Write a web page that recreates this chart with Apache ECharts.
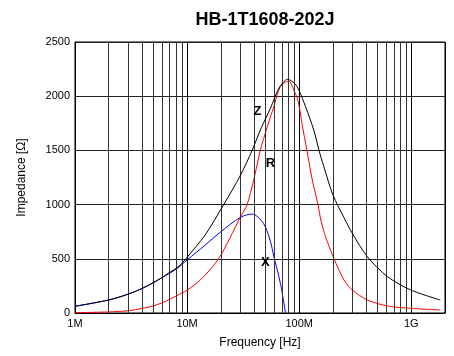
<!DOCTYPE html>
<html><head><meta charset="utf-8">
<script src="https://cdn.jsdelivr.net/npm/echarts@6/dist/echarts.min.js"></script>
<style>html,body{margin:0;padding:0;background:#fff}#c{width:454px;height:356px}</style>
</head><body><div id="c"></div>
<script>
// Frequencies in Hz, impedance in ohms
var zFreq = [1e6, 2e6, 3e6, 4e6, 5e6, 6e6, 7e6, 8e6, 9e6, 10e6, 14.5e6, 21.2e6, 30e6, 38e6, 46e6, 55.5e6, 66e6, 79e6, 92e6, 100e6, 114e6, 135e6, 150e6, 166e6, 200e6, 251e6, 298e6, 406e6, 614e6, 992e6, 1815e6];
var zVal  = [62, 120, 175, 228, 280, 329, 375, 412, 458, 514, 720, 1000, 1273, 1500, 1710, 1890, 2073, 2156, 2113, 2050, 1903, 1688, 1504, 1350, 1090, 880, 735, 519, 335, 212, 120];
var rFreq = [1e6, 2e6, 3e6, 4e6, 5e6, 6e6, 7e6, 8e6, 9e6, 10e6, 13.1e6, 19.1e6, 30e6, 34.3e6, 39.3e6, 45e6, 52e6, 59.4e6, 68e6, 80.5e6, 89.6e6, 98e6, 106.5e6, 117e6, 131e6, 147e6, 156e6, 172e6, 204e6, 251e6, 298e6, 406e6, 614e6, 992e6, 1815e6];
var rVal  = [3, 10, 21, 43, 65, 95, 126, 157, 185, 210, 304, 500, 888, 1000, 1227, 1500, 1720, 1903, 2090, 2140, 2057, 1950, 1734, 1504, 1227, 1003, 858, 704, 504, 304, 212, 120, 65, 43, 28];
var xFreq = [1e6, 2e6, 3e6, 4e6, 5e6, 6e6, 8e6, 10e6, 14.5e6, 20e6, 30e6, 38e6, 48e6, 55.5e6, 59e6, 68e6, 75.5e6];
var xVal  = [62, 120, 175, 228, 280, 327, 405, 489, 627, 750, 883, 913, 827, 658, 535, 274, 0];
var minorGrid = [2e6,3e6,4e6,5e6,6e6,7e6,8e6,9e6,2e7,3e7,4e7,5e7,6e7,7e7,8e7,9e7,2e8,3e8,4e8,5e8,6e8,7e8,8e8,9e8];
var curveLabels = [{name:'Z', f:42.5e6, v:1863}, {name:'R', f:55.5e6, v:1384}, {name:'X', f:50e6, v:470}];
var yTicks = {min:0, max:2500, step:500};

function pairs(f, v){ return f.map(function(x,i){return [x, v[i]];}); }
function tag(n){ var l = curveLabels.filter(function(c){return c.name===n;})[0];
  return {symbol:'circle', symbolSize:0, silent:true, data:[{coord:[l.f,l.v], value:n}],
    label:{show:true, formatter:n, position:'inside', color:'#000', fontWeight:'bold', fontSize:13, fontFamily:'Liberation Sans, Arial'}}; }

var chart = echarts.init(document.getElementById('c'), null, {renderer:'canvas'});
var font = 'Liberation Sans, Arial, sans-serif';
chart.setOption({
  animation:false,
  title:{text:'HB-1T1608-202J', left:260, top:6, textAlign:'center',
    textStyle:{fontFamily:font, fontWeight:'bold', fontSize:18, color:'#000'}},
  grid:{left:75, right:9, top:42, bottom:43, show:true, borderColor:'#000', borderWidth:1, backgroundColor:'#fff'},
  xAxis:{type:'log', logBase:10, min:1e6, max:2e9,
    name:'Frequency [Hz]', nameLocation:'middle', nameGap:24,
    nameTextStyle:{fontFamily:font, fontSize:12, color:'#000'},
    axisLine:{lineStyle:{color:'#000'}}, axisTick:{show:false},
    axisLabel:{fontFamily:font, fontSize:11, color:'#000', margin:5,
      formatter:function(v){ var e=Math.round(Math.log10(v)); if (Math.abs(Math.log10(v)-e)>1e-6) return '';
        return {6:'1M',7:'10M',8:'100M',9:'1G'}[e]||''; }},
    splitLine:{show:true, lineStyle:{color:'#000', width:1}}},
  yAxis:{type:'value', min:yTicks.min, max:yTicks.max, interval:yTicks.step,
    name:'Impedance [Ω]', nameLocation:'middle', nameGap:47, nameRotate:90,
    nameTextStyle:{fontFamily:font, fontSize:12, color:'#000'},
    axisLine:{show:true, lineStyle:{color:'#000'}}, axisTick:{show:false},
    axisLabel:{fontFamily:font, fontSize:11, color:'#000', margin:5, formatter:function(v){return String(v);}},
    splitLine:{show:true, lineStyle:{color:'#222', width:1}}},
  series:[
    {type:'line', data:[], z:1, silent:true,
      markLine:{silent:true, symbol:['none','none'], label:{show:false}, animation:false,
        lineStyle:{color:'#333', width:1, type:'solid'},
        data: minorGrid.map(function(f){return {xAxis:f};})}},
    {type:'line', name:'X', data:pairs(xFreq,xVal), showSymbol:false, smooth:0.3,
      lineStyle:{color:'#0000ff', width:1}, z:3, markPoint:tag('X')},
    {type:'line', name:'R', data:pairs(rFreq,rVal), showSymbol:false, smooth:0.3,
      lineStyle:{color:'#ff0000', width:1}, z:4, markPoint:tag('R')},
    {type:'line', name:'Z', data:pairs(zFreq,zVal), showSymbol:false, smooth:0.3,
      lineStyle:{color:'#000000', width:1}, z:5, markPoint:tag('Z')}
  ]
});
</script></body></html>
